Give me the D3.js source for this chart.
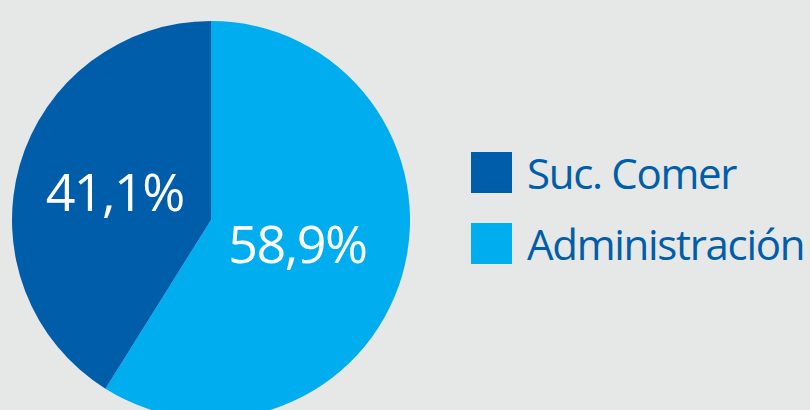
<!DOCTYPE html>
<html>
<head>
<meta charset="utf-8">
<script src="https://cdn.jsdelivr.net/npm/d3@7"></script>
<style>
  body { margin: 0; background: #e6e7e7; }
  svg { display: block; }
  text { font-family: "Open Sans", "Noto Sans", sans-serif; }
</style>
</head>
<body>
<div id="corpo"></div>
<script>
// datos
var categorias = ["Administración", "Suc. Comer"];
var valores = [58.9, 41.1];
var colores = ["#00aeef", "#005daa"];
var leyenda = ["Suc. Comer", "Administración"];

var width = 810, height = 410;
var cx = 211, cy = 220, radius = 199;

var svg = d3.select("#corpo").append("svg")
    .attr("width", width)
    .attr("height", height);

svg.append("rect")
    .attr("width", width)
    .attr("height", height)
    .attr("fill", "#e6e7e7");

var color = d3.scaleOrdinal().domain(categorias).range(colores);

var pie = d3.pie().sort(null).value(function(d) { return d; });
var arc = d3.arc().innerRadius(0).outerRadius(radius);
var labelArc = d3.arc().innerRadius(0).outerRadius(190);

var g = svg.append("g")
    .attr("transform", "translate(" + cx + "," + cy + ")");

var slices = pie(valores);

g.selectAll("path")
    .data(slices)
    .enter().append("path")
    .attr("d", arc)
    .attr("fill", function(d, i) { return color(categorias[i]); });

// etiquetas de porcentaje
g.selectAll("text.pct")
    .data(slices)
    .enter().append("text")
    .attr("class", "pct")
    .attr("transform", function(d) {
        var c = labelArc.centroid(d);
        return "translate(" + (c[0] - 5) + "," + (c[1] + 17) + ")";
    })
    .attr("text-anchor", "middle")
    .attr("fill", "#fff")
    .style("font-size", "52px")
    .style("font-weight", 500)
    .style("letter-spacing", "-1.5px")
    .text(function(d) { return d3.format(".1f")(d.value).replace(".", ",") + "%"; });

// LEYENDA
var leg = svg.append("g");
leyenda.forEach(function(nombre, i) {
    leg.append("rect")
        .attr("x", 471)
        .attr("y", 152 + i * 71)
        .attr("width", 41)
        .attr("height", 41)
        .attr("fill", color(nombre));
    leg.append("text")
        .attr("x", 527)
        .attr("y", 189 + i * 71)
        .attr("fill", "#005daa")
        .style("font-size", "42px")
        .style("letter-spacing", "-1.3px")
        .text(nombre);
});
</script>
</body>
</html>
